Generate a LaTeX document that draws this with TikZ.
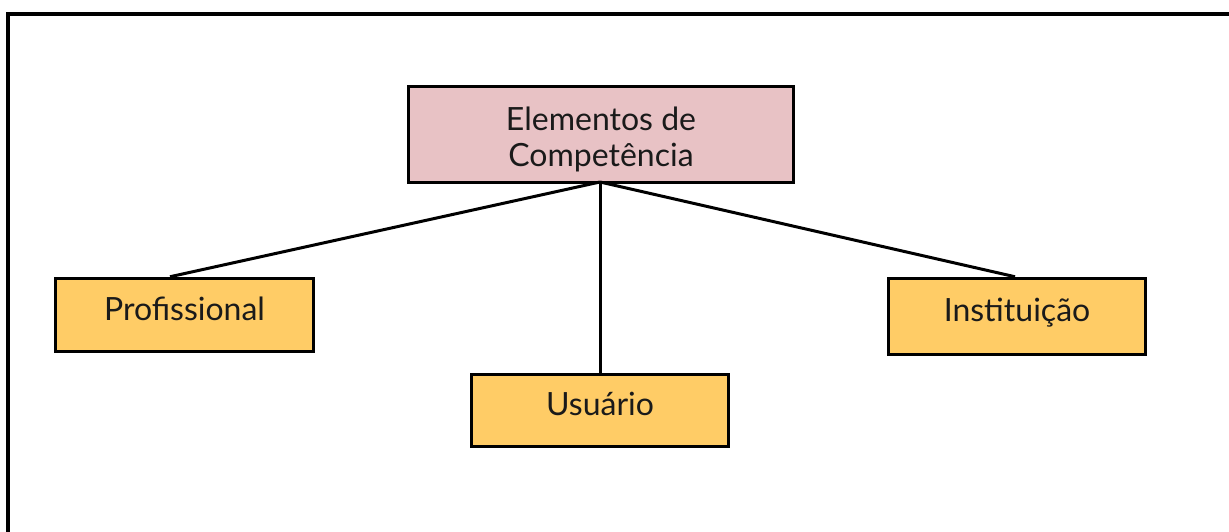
\documentclass[tikz,border=0pt]{standalone}
\usepackage{fontspec}
\setmainfont{Lato}
\definecolor{pinkbox}{HTML}{E8C2C5}
\definecolor{orangebox}{HTML}{FFCC66}
\definecolor{textcol}{HTML}{1A1A1A}
\begin{document}
\begin{tikzpicture}[x=1pt,y=-1pt,
  boxstyle/.style={draw=black,line width=3.5pt,fill=orangebox,inner sep=0pt,text=textcol,font=\fontsize{32}{36}\selectfont},
  onebox/.style={boxstyle,text height=22pt,text depth=12pt},
  conn/.style={line width=3pt}]
\useasboundingbox (0,0) rectangle (1229,532);
\fill[white] (0,0) rectangle (1229,532);
\draw[line width=4pt] (8,532) -- (8,14) -- (1229,14);
\node[boxstyle,fill=pinkbox,minimum width=385pt,minimum height=96pt,align=center] (top) at (601,134.5) {\rule{0pt}{33pt}Elementos de\\Competência};
\node[onebox,minimum width=258pt,minimum height=73pt] (prof) at (184.5,315) {Profissional};
\node[onebox,minimum width=257pt,minimum height=72pt] (usu) at (600,410.5) {Usuário};
\node[onebox,minimum width=257pt,minimum height=76pt] (inst) at (1017,316.5) {Instituição};
\coordinate (hub) at (600,182);
\draw[conn] (hub) -- (prof.north -| 170,0);
\draw[conn] (hub) -- (usu.north);
\draw[conn] (hub) -- (inst.north -| 1015,0);
\end{tikzpicture}
\end{document}
